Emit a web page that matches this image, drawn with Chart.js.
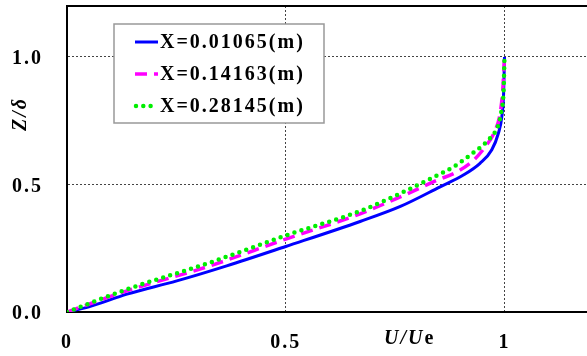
<!DOCTYPE html>
<html>
<head>
<meta charset="utf-8">
<script src="https://cdn.jsdelivr.net/npm/chart.js@4/dist/chart.umd.min.js"></script>
<style>
    body { margin: 0; overflow: hidden; background: #fff; }
    canvas { display: block; }
</style>
</head>
<body>
<canvas id="profileChart" width="600" height="356"></canvas>
<script>
// velocity profiles, U/Ue against Z/delta
const seriesNames = ['X=0.01065(m)', 'X=0.14163(m)', 'X=0.28145(m)'];

const u1 = [0, 0.05, 0.137, 0.251, 0.365, 0.5, 0.67, 0.762, 0.853, 0.906, 0.944, 0.971, 0.986, 0.994, 0.998, 1.0];
const z1 = [0, 0.02, 0.070, 0.122, 0.181, 0.257, 0.355, 0.414, 0.491, 0.537, 0.583, 0.636, 0.701, 0.767, 0.859, 1.0];

const u2 = [0, 0.137, 0.327, 0.5, 0.67, 0.769, 0.845, 0.891, 0.929, 0.956, 0.979, 0.990, 0.996, 1.0];
const z2 = [0, 0.083, 0.181, 0.286, 0.385, 0.457, 0.516, 0.549, 0.595, 0.648, 0.713, 0.779, 0.871, 1.0];

const u3 = [0, 0.137, 0.327, 0.5, 0.67, 0.773, 0.838, 0.884, 0.929, 0.966, 0.985, 0.993, 0.998, 1.0];
const z3 = [0, 0.089, 0.194, 0.300, 0.396, 0.474, 0.529, 0.570, 0.625, 0.680, 0.730, 0.789, 0.871, 1.0];

const xTicks = [0, 0.5, 1];
const xTickLabels = ['0', '0.5', '1'];
const yTicks = [0, 0.5, 1.0];
const yTickLabels = ['0.0', '0.5', '1.0'];

const FONT = 'Liberation Serif, Times New Roman, serif';

const toPoints = (u, z) => u.map((v, i) => ({x: v, y: z[i]}));

// frame, legend box and axis titles
const decorations = {
    id: 'decorations',
    beforeDraw(chart) {
        chart.ctx.letterSpacing = '2px';
    },
    afterDraw(chart) {
        const ctx = chart.ctx;
        const area = chart.chartArea;
        ctx.save();

        // top edge of the frame
        ctx.strokeStyle = '#000';
        ctx.lineWidth = 2;
        ctx.beginPath();
        ctx.moveTo(area.left, area.top);
        ctx.lineTo(area.right, area.top);
        ctx.stroke();

        // legend
        ctx.fillStyle = '#fff';
        ctx.fillRect(114, 24, 210, 99);
        ctx.strokeStyle = '#999';
        ctx.lineWidth = 1.5;
        ctx.strokeRect(114, 24, 210, 99);

        const rows = [42, 74, 106];
        chart.data.datasets.forEach((ds, i) => {
            const y = rows[i];
            ctx.save();
            ctx.strokeStyle = ds.borderColor;
            ctx.lineWidth = ds.borderWidth;
            ctx.lineCap = ds.borderCapStyle || 'butt';
            ctx.setLineDash(ds.borderDash || []);
            ctx.beginPath();
            if (ds.borderCapStyle === 'round') {
                ctx.moveTo(136, y);
                ctx.lineTo(153, y);
            } else {
                ctx.moveTo(135, y);
                ctx.lineTo(158, y);
            }
            ctx.stroke();
            ctx.restore();

            ctx.fillStyle = '#000';
            ctx.font = 'bold 20px ' + FONT;
            ctx.textAlign = 'left';
            ctx.textBaseline = 'middle';
            ctx.letterSpacing = '2px';
            ctx.fillText(ds.label, 160, y + 1);
        });

        // x axis title: U/Ue
        ctx.fillStyle = '#000';
        ctx.textBaseline = 'middle';
        ctx.textAlign = 'left';
        ctx.letterSpacing = '2px';
        let x = 384;
        ctx.font = 'italic bold 20px ' + FONT;
        ctx.fillText('U/U', x, 339);
        x += ctx.measureText('U/U').width;
        ctx.font = 'bold 20px ' + FONT;
        ctx.fillText('e', x, 339);

        // y axis title
        ctx.save();
        ctx.translate(21, 114);
        ctx.rotate(-Math.PI / 2);
        ctx.textAlign = 'center';
        ctx.font = 'italic bold 20px ' + FONT;
        ctx.fillText('Z/δ', 0, 0);
        ctx.restore();

        ctx.restore();
    }
};

const gridColor = ctx => ctx.tick && ctx.tick.value === 0 ? 'rgba(0,0,0,0)' : '#444';

new Chart(document.getElementById('profileChart'), {
    type: 'line',
    data: {
        datasets: [{
            label: seriesNames[0],
            data: toPoints(u1, z1),
            borderColor: '#0000ff',
            borderWidth: 3,
            order: 3
        }, {
            label: seriesNames[1],
            data: toPoints(u2, z2),
            borderColor: '#ff00ff',
            borderWidth: 3.5,
            borderDash: [12, 7],
            order: 2
        }, {
            label: seriesNames[2],
            data: toPoints(u3, z3),
            borderColor: '#00ee00',
            borderWidth: 4.5,
            borderDash: [0, 7.3],
            borderCapStyle: 'round',
            order: 1
        }]
    },
    options: {
        responsive: false,
        animation: false,
        events: [],
        parsing: false,
        elements: {
            point: { radius: 0 },
            line: { cubicInterpolationMode: 'monotone', fill: false }
        },
        layout: { padding: { left: 0, top: 6, right: 8, bottom: 0 } },
        plugins: {
            legend: { display: false },
            tooltip: { enabled: false }
        },
        scales: {
            x: {
                type: 'linear',
                min: 0,
                max: 1.2,
                afterBuildTicks: scale => { scale.ticks = xTicks.map(v => ({value: v})); },
                afterFit: scale => {
                    scale.height = 44;
                    scale.paddingLeft = 0;
                    scale.paddingRight = 0;
                },
                grid: { color: gridColor, lineWidth: 1, drawTicks: false },
                border: { color: '#000', width: 2, dash: [2, 2] },
                ticks: {
                    padding: 19,
                    color: '#000',
                    maxRotation: 0,
                    font: { family: FONT, size: 20, weight: 'bold' },
                    callback: (v, i) => xTickLabels[i]
                }
            },
            y: {
                type: 'linear',
                min: 0,
                max: 1.2,
                afterBuildTicks: scale => { scale.ticks = yTicks.map(v => ({value: v})); },
                afterFit: scale => {
                    scale.width = 67;
                    scale.paddingTop = 0;
                    scale.paddingBottom = 0;
                },
                grid: { color: gridColor, lineWidth: 1, drawTicks: false },
                border: { color: '#000', width: 2, dash: [2, 2] },
                ticks: {
                    padding: 24,
                    labelOffset: 2,
                    color: '#000',
                    font: { family: FONT, size: 20, weight: 'bold' },
                    callback: (v, i) => yTickLabels[i]
                }
            }
        }
    },
    plugins: [decorations]
});
</script>
</body>
</html>
